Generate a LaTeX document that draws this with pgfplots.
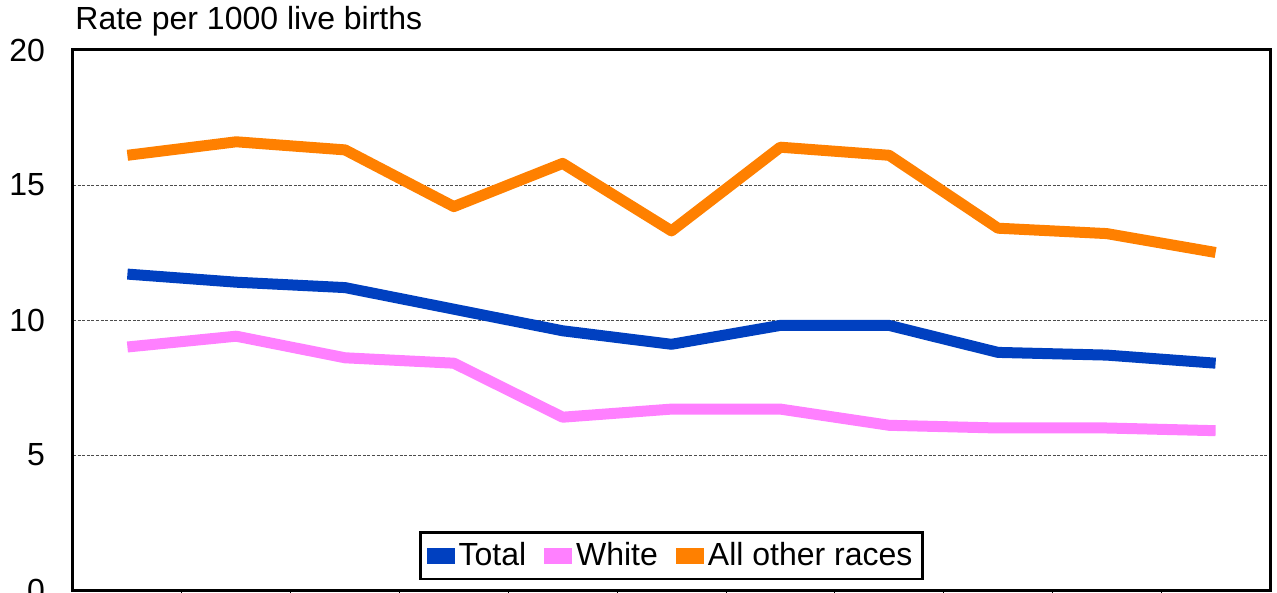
\documentclass[border=0pt]{standalone}
\usepackage{pgfplots}
\pgfplotsset{compat=1.18}
\usepackage{fontspec}
\setmainfont{Liberation Sans}
\definecolor{cTotal}{RGB}{0,64,192}
\definecolor{cWhite}{RGB}{255,128,255}
\definecolor{cOther}{RGB}{255,128,0}
\pgfplotstableread{
x total white other
0.5 11.7 9.0 16.1
1.5 11.4 9.4 16.6
2.5 11.2 8.6 16.3
3.5 10.4 8.4 14.2
4.5 9.6 6.4 15.8
5.5 9.1 6.7 13.3
6.5 9.8 6.7 16.4
7.5 9.8 6.1 16.1
8.5 8.8 6.0 13.4
9.5 8.7 6.0 13.2
10.5 8.4 5.9 12.5
}\datatable
\begin{document}
\begin{tikzpicture}
\begin{axis}[
  scale only axis,
  width=598.5pt, height=270pt,
  xmin=0, xmax=11, ymin=0, ymax=20,
  clip mode=individual,
  xtick={1,2,...,10}, xticklabels={},
  major tick length=3pt,
  x tick style={black, thin},
  xtick pos=bottom, tick align=outside,
  ytick={0,5,10,15,20},
  y tick style={draw=none},
  ymajorgrids,
  grid style={black!70, line width=0.4pt, dash pattern=on 1.5pt off 0.8pt},
  axis line style={line width=1.5pt},
  tick label style={font=\fontsize{16}{18}\selectfont},
  yticklabel style={xshift=-7.5pt},
  /pgf/number format/assume math mode=true,
  legend style={at={(0.5,0.0185)}, anchor=south, legend columns=3, draw=black, line width=1.2pt,
    font=\fontsize{16}{18}\selectfont, inner sep=3pt,
    /tikz/every odd column/.append style={column sep=0pt},
    /tikz/every even column/.append style={column sep=7pt}},
  legend image code/.code={\fill[#1, draw=none] (0pt,-4pt) rectangle (14pt,4pt);},
]
\addplot[cTotal, line width=5.5pt, line join=round] table[x=x,y=total] {\datatable};
\addlegendentry{Total}
\addplot[cWhite, line width=5.5pt, line join=round] table[x=x,y=white] {\datatable};
\addlegendentry{White}
\addplot[cOther, line width=5.5pt, line join=round] table[x=x,y=other] {\datatable};
\addlegendentry{All other races}
\node[anchor=base west, inner sep=0pt, font=\fontsize{16}{18}\selectfont] at (rel axis cs:0,1) [yshift=10pt, xshift=1pt] {Rate per 1000 live births};
\end{axis}
\pgfresetboundingbox
\useasboundingbox ([xshift=-36.5pt,yshift=-1.5pt]current axis.south west) rectangle ([xshift=3.5pt,yshift=25pt]current axis.north east);
\end{tikzpicture}
\end{document}
